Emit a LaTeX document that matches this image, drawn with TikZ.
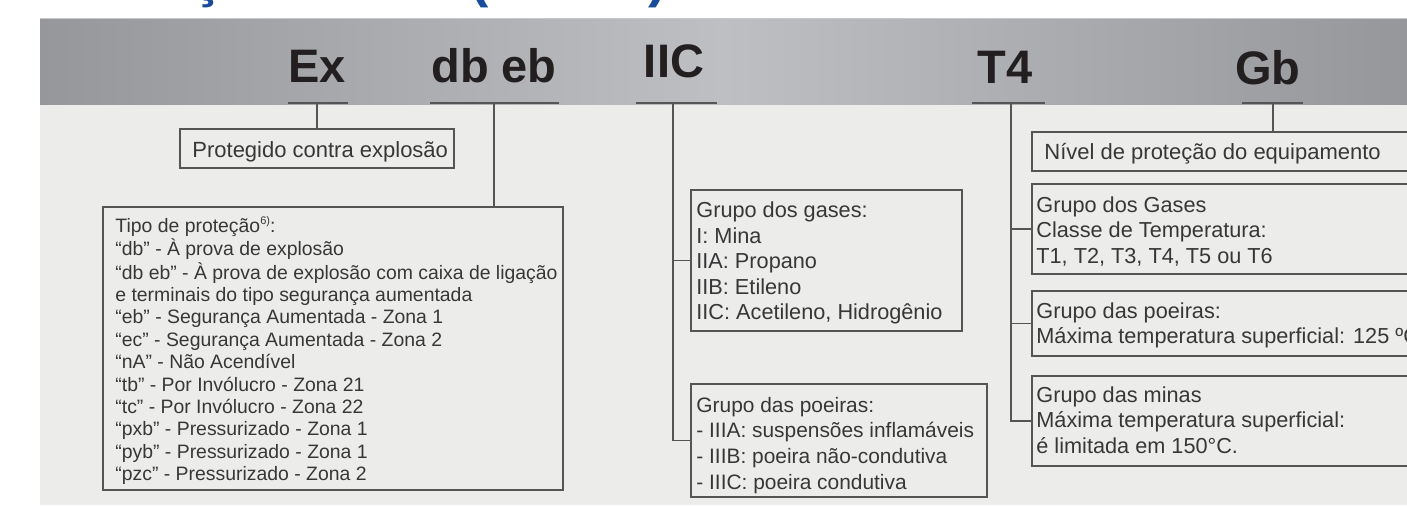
\documentclass[tikz,border=0pt]{standalone}
\usepackage{fontspec}
\setmainfont{Liberation Sans}
\definecolor{bandL}{RGB}{150,151,155}
\definecolor{bandM}{RGB}{190,191,195}
\definecolor{bandR}{RGB}{150,151,154}
\definecolor{bandtop}{RGB}{200,200,202}
\definecolor{bodybg}{RGB}{236,237,235}
\definecolor{linegray}{RGB}{85,85,85}
\definecolor{txtgray}{RGB}{55,55,55}
\definecolor{labblack}{RGB}{35,31,32}
\definecolor{titleblue}{RGB}{25,75,155}
\newcommand\boxlines[1]{\begin{tabular}[t]{@{}l@{}}#1\end{tabular}}
\newcommand\supsix{{\fontsize{5.5}{6}\selectfont\raisebox{3.6pt}{6)}}}
\begin{document}
\begin{tikzpicture}[x=0.5pt,y=-0.5pt,
  box/.style={draw=linegray, line width=0.65pt, anchor=north west, inner sep=0pt, outer sep=0pt},
  txt/.style={anchor=base west, inner sep=0pt, text=txtgray, font=\fontsize{10.85}{12.8}\selectfont},
  poetxt/.style={anchor=base west, inner sep=0pt, text=txtgray, font=\fontsize{10.45}{12.85}\selectfont},
  smalltxt/.style={anchor=base west, inner sep=0pt, text=txtgray, font=\fontsize{9.7}{11.2}\selectfont},
  headtxt/.style={anchor=base west, inner sep=0pt, text=txtgray, font=\fontsize{11}{13}\selectfont},
  lab/.style={anchor=base, inner sep=0pt, text=labblack, font=\bfseries\fontsize{23.5}{28}\selectfont},
  uline/.style={draw=linegray, line width=1.1pt},
  conn/.style={draw=linegray, line width=0.65pt}]

\useasboundingbox (0,0) rectangle (1407,505);
\clip (0,0) rectangle (1407,505);
\fill[white] (0,0) rectangle (1407,505);
\fill[bodybg] (40,104) rectangle (1407,505);
\shade[left color=bandL, right color=bandR, middle color=bandM] (40,18) rectangle (1407,104);
\draw[bandtop, line width=0.5pt] (40,18.5) -- (1407,18.5);

% partially visible title (cut off by the top edge)
\node[anchor=base west, inner sep=0pt, text=titleblue, font=\bfseries\fontsize{27.5}{33}\selectfont] (title) at (33.5,-4) {Marcação Brasil (IECEx)};

% big labels
\node[lab] (ex) at (317,82) {Ex};
\node[lab] (dbeb) at (494,82) {db eb};
\node[lab] (iic) at (674,77) {IIC};
\node[lab] (t4) at (1005,83) {T4};
\node[lab] (gb) at (1268,84) {Gb};

% underline coordinates
\coordinate (exA) at (288,103); \coordinate (exB) at (348,103); \coordinate (exU) at (317,103);
\coordinate (dbA) at (430,103); \coordinate (dbB) at (559,103); \coordinate (dbU) at (494,103);
\coordinate (iicA) at (636,103); \coordinate (iicB) at (717,103); \coordinate (iicU) at (673,103);
\coordinate (t4A) at (972,103); \coordinate (t4B) at (1045,103); \coordinate (t4U) at (1011,103);
\coordinate (gbA) at (1242,103); \coordinate (gbB) at (1303,103); \coordinate (gbU) at (1273,103);
\draw[uline] (exA) -- (exB);
\draw[uline] (dbA) -- (dbB);
\draw[uline] (iicA) -- (iicB);
\draw[uline] (t4A) -- (t4B);
\draw[uline] (gbA) -- (gbB);

% boxes
\node[box, minimum width=137pt, minimum height=19.5pt] (prot) at (180,129) {};
\node[box, minimum width=230pt, minimum height=141.5pt] (tipo) at (103,207) {};
\node[box, minimum width=135.5pt, minimum height=70.5pt] (gas) at (691,190) {};
\node[box, minimum width=148pt, minimum height=56.5pt] (poe) at (691,384) {};
\node[box, minimum width=194pt, minimum height=19.5pt] (niv) at (1032,132) {};
\node[box, minimum width=194pt, minimum height=45pt] (gt) at (1032,184) {};
\node[box, minimum width=194pt, minimum height=32.5pt] (pt) at (1032,291) {};
\node[box, minimum width=194pt, minimum height=45pt] (mt) at (1032,376) {};

% texts
\node[headtxt] (protT) at (192,157) {Protegido contra explosão};
\node[smalltxt] (tipoT) at (115,232) {\boxlines{Tipo de proteção\supsix:\\
“db” - À prova de explosão\\
“db eb” - À prova de explosão com caixa de ligação\\
e terminais do tipo segurança aumentada\\
“eb” - Segurança Aumentada - Zona 1\\
“ec” - Segurança Aumentada - Zona 2\\
“nA” - Não Acendível\\
“tb” - Por Invólucro - Zona 21\\
“tc” - Por Invólucro - Zona 22\\
“pxb” - Pressurizado - Zona 1\\
“pyb” - Pressurizado - Zona 1\\
“pzc” - Pressurizado - Zona 2}};
\node[txt] (gasT) at (696,217.5) {\boxlines{Grupo dos gases:\\
I: Mina\\
IIA: Propano\\
IIB: Etileno\\
IIC: Acetileno, Hidrogênio}};
\node[poetxt] (poeT) at (696,412) {\boxlines{Grupo das poeiras:\\
- IIIA: suspensões inflamáveis\\
- IIIB: poeira não-condutiva\\
- IIIC: poeira condutiva}};
\node[headtxt] (nivT) at (1044,159) {Nível de proteção do equipamento};
\node[txt] (gtT) at (1036,212) {\boxlines{Grupo dos Gases\\
Classe de Temperatura:\\
T1, T2, T3, T4, T5 ou T6}};
\node[txt] (ptT) at (1036,318) {\boxlines{Grupo das poeiras:\\
Máxima temperatura superficial: 125 ºC}};
\node[txt] (mtT) at (1036,402) {\boxlines{Grupo das minas\\
Máxima temperatura superficial:\\
é limitada em 150°C.}};

% connectors
\draw[conn] (exU) -- (prot.north);
\draw[conn] (dbU) -- (dbU |- tipo.north);
\draw[conn] (iicU) |- (gas.west);
\draw[conn] (iicU) |- (poe.west);
\draw[conn] (t4U) |- (gt.west);
\draw[conn] (t4U) |- (pt.west);
\draw[conn] (t4U) |- (mt.west);
\draw[conn] (gbU) -- (gbU |- niv.north);
\end{tikzpicture}
\end{document}
